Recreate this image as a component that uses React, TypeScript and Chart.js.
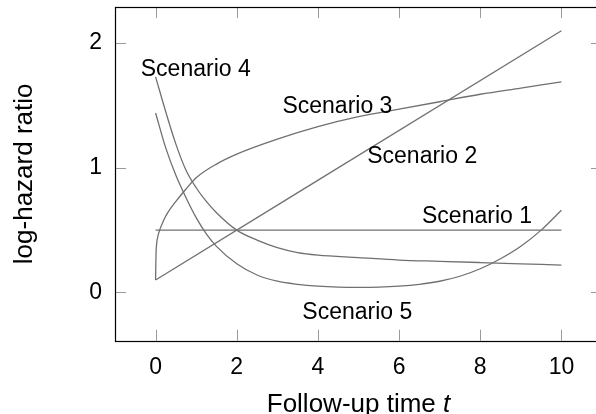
import React, { useEffect, useRef } from "react";
import { Chart, registerables } from "chart.js";

Chart.register(...registerables);

// ---- data ----
const xTickValues = [0, 2, 4, 6, 8, 10];
const yTickValues = [0, 1, 2];

const s1T = [0, 10];
const s1Y = [0.5, 0.5];

const s2T = [0, 10];
const s2Y = [0.1, 2.1];

const s3T = [0, 0.01, 0.02, 0.05, 0.1, 0.2, 0.3, 0.5, 0.75, 1, 1.5, 2, 3, 4, 5, 6, 7, 8, 9, 10];
const s3Y = [0.1, 0.3, 0.37, 0.44, 0.5, 0.58, 0.64, 0.73, 0.83, 0.92, 1.03, 1.11, 1.23, 1.33, 1.41, 1.47, 1.53, 1.59, 1.64, 1.69];

const s4T = [0, 0.25, 0.5, 0.75, 1, 1.25, 1.5, 2, 2.5, 3, 3.5, 4, 5, 6, 7, 8, 9, 10];
const s4Y = [1.73, 1.45, 1.19, 0.98, 0.84, 0.73, 0.64, 0.5, 0.42, 0.36, 0.32, 0.3, 0.28, 0.26, 0.25, 0.24, 0.23, 0.22];

const s5T = [0, 0.25, 0.5, 0.75, 1, 1.25, 1.5, 2, 2.5, 3, 3.5, 4, 4.5, 5, 5.5, 6, 6.5, 7, 7.5, 8, 8.5, 9, 9.5, 10];
const s5Y = [1.44, 1.16, 0.94, 0.76, 0.6, 0.47, 0.37, 0.23, 0.14, 0.09, 0.065, 0.05, 0.042, 0.04, 0.042, 0.05, 0.065, 0.09, 0.13, 0.19, 0.27, 0.37, 0.5, 0.66];

const seriesNames = ["Scenario 1", "Scenario 2", "Scenario 3", "Scenario 4", "Scenario 5"];
const seriesT = [s1T, s2T, s3T, s4T, s5T];
const seriesY = [s1Y, s2Y, s3Y, s4Y, s5Y];

// label anchors (data coordinates, text centre)
const labelX = [7.92, 6.57, 4.48, 0.99, 4.97];
const labelY = [0.606, 1.088, 1.494, 1.787, -0.159];

const xTitle = "Follow-up time ";
const xTitleItalic = "t";
const yTitle = "log-hazard ratio";

const FONT = "'Liberation Sans', Arial, Helvetica, sans-serif";

const decorPlugin = {
  id: "decor",
  afterDatasetsDraw(chart: any) {
    const { ctx, chartArea, scales } = chart;
    const { left, right, top, bottom } = chartArea;
    const xs = scales.x;
    const ys = scales.y;
    ctx.save();
    // inward ticks
    ctx.strokeStyle = "#9a9a9a";
    ctx.lineWidth = 1;
    const tl = 11;
    ctx.beginPath();
    for (const v of xTickValues) {
      const px = Math.round(xs.getPixelForValue(v)) + 0.5;
      ctx.moveTo(px, bottom);
      ctx.lineTo(px, bottom - tl);
      ctx.moveTo(px, top);
      ctx.lineTo(px, top + tl);
    }
    for (const v of yTickValues) {
      const py = Math.round(ys.getPixelForValue(v)) + 0.5;
      ctx.moveTo(left, py);
      ctx.lineTo(left + tl, py);
      ctx.moveTo(right, py);
      ctx.lineTo(right - tl, py);
    }
    ctx.stroke();
    // frame
    ctx.strokeStyle = "#000";
    ctx.lineWidth = 1.2;
    ctx.strokeRect(Math.round(left) + 0.5, Math.round(top) + 0.5, Math.round(right - left), Math.round(bottom - top));

    // scenario labels
    ctx.fillStyle = "#000";
    ctx.font = `23px ${FONT}`;
    ctx.textAlign = "center";
    ctx.textBaseline = "middle";
    seriesNames.forEach((name, i) => {
      ctx.fillText(name, xs.getPixelForValue(labelX[i]), ys.getPixelForValue(labelY[i]));
    });

    // x title with italic t
    const cx = (left + right) / 2;
    ctx.textBaseline = "alphabetic";
    ctx.textAlign = "left";
    ctx.font = `26px ${FONT}`;
    const w1 = ctx.measureText(xTitle).width;
    ctx.font = `italic 26px ${FONT}`;
    const w2 = ctx.measureText(xTitleItalic).width;
    const startX = cx - (w1 + w2) / 2;
    ctx.font = `26px ${FONT}`;
    ctx.fillText(xTitle, startX, 412);
    ctx.font = `italic 26px ${FONT}`;
    ctx.fillText(xTitleItalic, startX + w1, 412);

    // y title
    ctx.save();
    ctx.translate(32, (top + bottom) / 2);
    ctx.rotate(-Math.PI / 2);
    ctx.font = `26px ${FONT}`;
    ctx.textAlign = "center";
    ctx.textBaseline = "alphabetic";
    ctx.fillText(yTitle, 0, 0);
    ctx.restore();

    ctx.restore();
  },
};

export default function App() {
  const ref = useRef<HTMLCanvasElement | null>(null);

  useEffect(() => {
    if (!ref.current) return;
    const datasets = seriesNames.map((name, i) => ({
      label: name,
      data: seriesT[i].map((t, j) => ({ x: t, y: seriesY[i][j] })),
      borderColor: "#707070",
      borderWidth: 1.3,
      pointRadius: 0,
      fill: false,
      cubicInterpolationMode: "monotone" as const,
    }));
    const chart = new Chart(ref.current, {
      type: "line",
      data: { datasets },
      plugins: [decorPlugin],
      options: {
        animation: false,
        responsive: false,
        devicePixelRatio: 1,
        layout: { padding: { top: 7, right: 8, left: 0, bottom: 0 } },
        plugins: { legend: { display: false }, tooltip: { enabled: false } },
        scales: {
          x: {
            type: "linear",
            min: -1,
            max: 11,
            afterBuildTicks: (s: any) => {
              s.ticks = xTickValues.map((v) => ({ value: v }));
            },
            afterFit: (s: any) => {
              s.height = 73.3;
              s.paddingLeft = 0;
              s.paddingRight = 0;
            },
            grid: { display: false, drawTicks: false, tickLength: 0 },
            border: { display: false },
            ticks: {
              color: "#000",
              padding: 13,
              maxRotation: 0,
              font: { family: FONT, size: 23 },
            },
          },
          y: {
            type: "linear",
            min: -0.387,
            max: 2.29,
            afterBuildTicks: (s: any) => {
              s.ticks = yTickValues.map((v) => ({ value: v }));
            },
            afterFit: (s: any) => {
              s.width = 115;
              s.paddingTop = 0;
              s.paddingBottom = 0;
            },
            grid: { display: false, drawTicks: false, tickLength: 0 },
            border: { display: false },
            ticks: {
              color: "#000",
              padding: 13,
              font: { family: FONT, size: 23 },
            },
          },
        },
      },
    });
    return () => chart.destroy();
  }, []);

  return (
    <div
      style={{
        position: "fixed",
        left: 0,
        top: 0,
        width: 596,
        height: 414,
        overflow: "hidden",
        background: "#fff",
      }}
    >
      <canvas ref={ref} width={610} height={414} style={{ display: "block", width: 610, height: 414 }} />
    </div>
  );
}
